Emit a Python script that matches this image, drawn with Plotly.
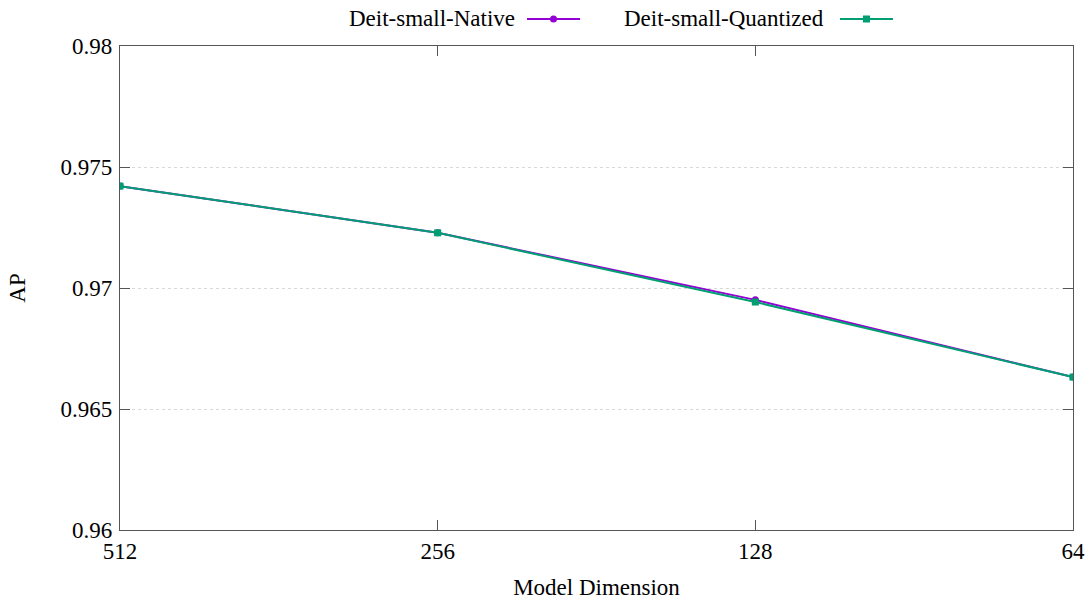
import plotly.graph_objects as go

dims = ["512", "256", "128", "64"]
native = [0.97421, 0.97228, 0.96951, 0.96632]
quantized = [0.97421, 0.97228, 0.96942, 0.96632]
y_ticks = [0.96, 0.965, 0.97, 0.975, 0.98]
y_tick_labels = ["0.96", "0.965", "0.97", "0.975", "0.98"]
series_names = ["Deit-small-Native", "Deit-small-Quantized"]

purple = "#9400D3"
green = "#009E73"
xpos = list(range(len(dims)))

L, R, T, B = 120, 1073, 46, 530
W, H = 1090, 610
PW, PH = R - L, B - T

fig = go.Figure()
fig.add_trace(go.Scatter(x=xpos, y=native, mode="lines+markers", name=series_names[0],
                         line=dict(color=purple, width=2),
                         marker=dict(symbol="circle", size=7, color=purple)))
fig.add_trace(go.Scatter(x=xpos, y=quantized, mode="lines+markers", name=series_names[1],
                         line=dict(color=green, width=2),
                         marker=dict(symbol="square", size=7, color=green)))

font = "Liberation Serif"
FS = 23
axis_common = dict(showline=True, linecolor="#555555", linewidth=1.3, mirror="ticks",
                   ticks="inside", ticklen=10, tickcolor="#555555", tickwidth=1.3,
                   zeroline=False, automargin=False,
                   tickfont=dict(family=font, size=FS, color="black"))

fig.update_xaxes(range=[0, 3], tickvals=xpos, ticktext=dims, showgrid=False,
                 ticklabeloverflow="allow",
                 title=dict(text="Model Dimension", font=dict(family=font, size=FS, color="black"), standoff=16),
                 **axis_common)
fig.update_yaxes(range=[0.96, 0.98], tickvals=y_ticks, ticktext=y_tick_labels,
                 showgrid=True, gridcolor="#d8d8d8", griddash="dot", gridwidth=1,
                 title=dict(text="AP", font=dict(family=font, size=FS, color="black"), standoff=28),
                 ticklabelstandoff=2,
                 **axis_common)

# legend drawn at the top: text followed by a line sample
shapes = []
annotations = []
legend_items = [(series_names[0], purple, "circle", 517, 527, 580),
                (series_names[1], green, "square", 826, 840, 893)]
ly = 1 + (T - 19) / PH
for name, col, sym, text_right, x0, x1 in legend_items:
    annotations.append(dict(text=name, xref="paper", yref="paper",
                            x=(text_right - L) / PW, y=ly,
                            xanchor="right", yanchor="middle", showarrow=False,
                            font=dict(family=font, size=FS, color="black")))
    shapes.append(dict(type="line", xref="paper", yref="paper",
                       x0=(x0 - L) / PW, x1=(x1 - L) / PW, y0=ly, y1=ly,
                       line=dict(color=col, width=2)))
    xc = ((x0 + x1) / 2 - L) / PW
    dx = 3.5 / PW
    dy = 3.5 / PH
    shapes.append(dict(type="circle" if sym == "circle" else "rect", xref="paper", yref="paper",
                       x0=xc - dx, x1=xc + dx, y0=ly - dy, y1=ly + dy,
                       fillcolor=col, line=dict(color=col, width=0)))

fig.update_layout(width=W, height=H,
                  margin=dict(l=L, r=W - R, t=T, b=H - B, autoexpand=False),
                  plot_bgcolor="white", paper_bgcolor="white", showlegend=False,
                  shapes=shapes, annotations=annotations,
                  font=dict(family=font, size=FS, color="black"))

fig.write_html("out.html", config={"displayModeBar": False},
               post_script="document.body.style.margin='0';document.body.style.overflow='hidden';")
